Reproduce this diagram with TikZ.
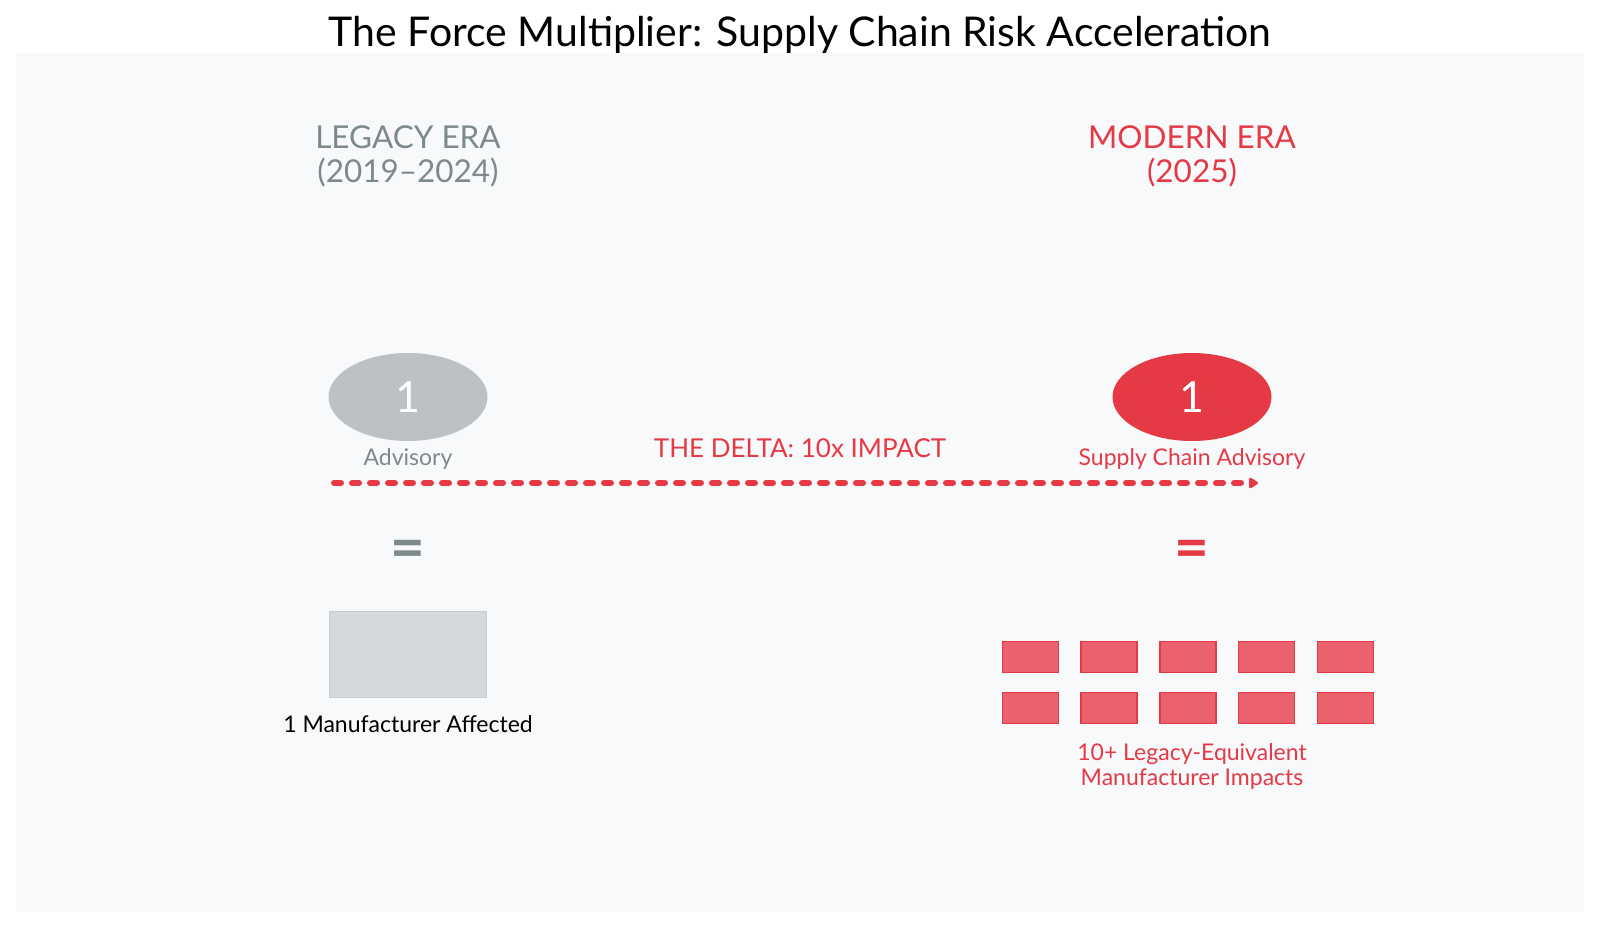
\documentclass[tikz,border=0pt]{standalone}
\usepackage{fontspec}
\setmainfont{Lato}
\usetikzlibrary{arrows.meta, shapes.geometric, positioning}

\definecolor{panelbg}{HTML}{F8F9FA}
\definecolor{legacytext}{HTML}{7D8A8A}
\definecolor{legacyfill}{HTML}{BDC1C6}
\definecolor{boxfill}{HTML}{D5D9DC}
\definecolor{boxline}{HTML}{C8CCD0}
\definecolor{modernred}{HTML}{E63946}
\definecolor{redfill}{HTML}{E9626D}

\begin{document}
\begin{tikzpicture}[
    x=1pt, y=-1pt,
    node distance=8pt,
    era/.style={font=\fontsize{31.5}{34}\selectfont, align=center},
    count/.style={ellipse, minimum width=159pt, minimum height=88pt, inner sep=0pt, font=\fontsize{43}{43}\selectfont, text=white},
    caption/.style={font=\fontsize{23}{25}\selectfont, align=center},
    eqsign/.style={font=\fontsize{60}{60}\selectfont\bfseries, inner sep=0pt},
    impact/.style={draw=modernred, line width=1.5pt, fill=redfill, minimum width=56pt, minimum height=31pt, inner sep=0pt},
    ar/.style={-{Triangle[length=10pt, width=12pt, round]}, line width=6pt, line cap=round, dash pattern=on 7pt off 11pt}
]
\useasboundingbox (0,0) rectangle (1600,929);
\fill[panelbg] (16,53) rectangle (1584,912);
\node[font=\fontsize{41}{44}\selectfont] (title) at (800,35) {The Force Multiplier: Supply Chain Risk Acceleration};

% legacy column
\node[era, text=legacytext] (legacy) at (408,156.5) {LEGACY ERA\\(2019--2024)};
\node[count, fill=legacyfill] (adv1) at (408,397) {1};
\node[caption, text=legacytext] (advlbl) at (408,459) {Advisory};
\node[eqsign, text=legacytext] (eq1) at (408,554) {=};
\node[draw=boxline, line width=1.5pt, fill=boxfill, minimum width=157pt, minimum height=86pt, inner sep=0pt] (mfr) at (408,654.5) {};
\node[caption] (mfrlbl) at (408,724.5) {1 Manufacturer Affected};

% modern column
\node[era, text=modernred] (modern) at (1192,156.5) {MODERN ERA\\(2025)};
\node[count, fill=modernred] (adv2) at (1192,397) {1};
\node[caption, text=modernred] (sclbl) at (1192,459) {Supply Chain Advisory};
\node[eqsign, text=modernred] (eq2) at (1192,554) {=};
\foreach \i in {0,...,4} {
  \node[impact] (ra\i) at (1030.5+78.7*\i,657) {};
  \node[impact] (rb\i) at (1030.5+78.7*\i,708) {};
}
\node[caption, text=modernred] (implbl) at (1192,766) {10+ Legacy-Equivalent\\Manufacturer Impacts};

% delta arrow
\coordinate (dstart) at (334,483);
\coordinate (dend) at (1258,483);
\draw[ar, modernred] (dstart) -- (dend);
\node[font=\fontsize{26}{30}\selectfont, text=modernred] (delta) at (800,448) {THE DELTA: 10x IMPACT};
\end{tikzpicture}
\end{document}
